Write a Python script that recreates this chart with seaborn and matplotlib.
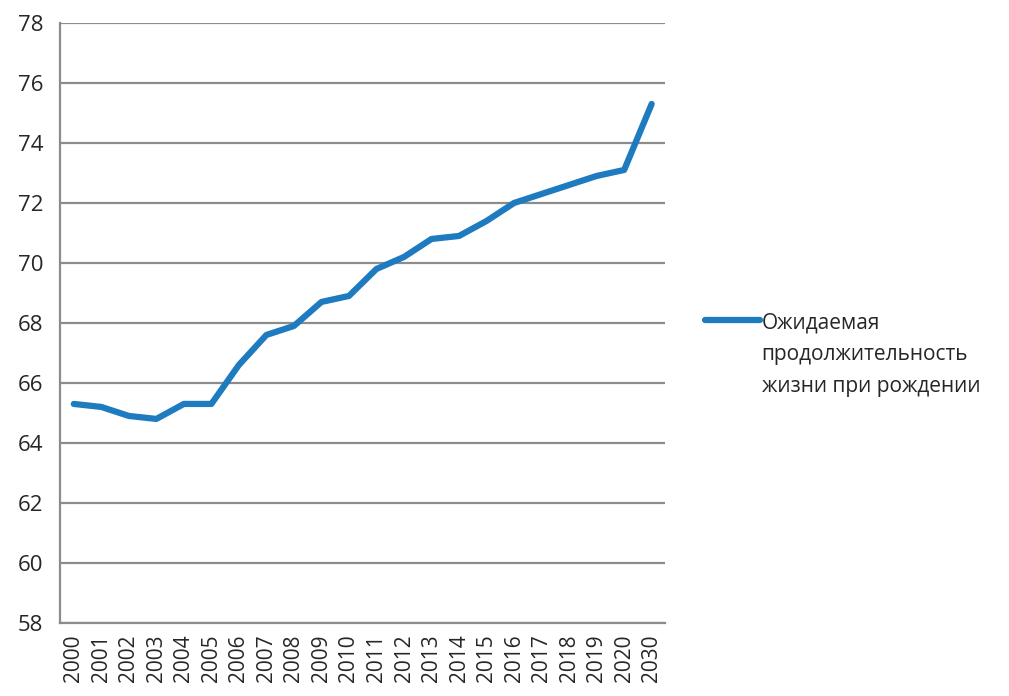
import numpy as np
import pandas as pd
import matplotlib
matplotlib.use("Agg")
import matplotlib.pyplot as plt
import seaborn as sns

years = ['2000', '2001', '2002', '2003', '2004', '2005', '2006', '2007', '2008', '2009', '2010',
         '2011', '2012', '2013', '2014', '2015', '2016', '2017', '2018', '2019', '2020', '2030']
life_exp = [65.3, 65.2, 64.9, 64.8, 65.3, 65.3, 66.6, 67.6, 67.9, 68.7, 68.9,
            69.8, 70.2, 70.8, 70.9, 71.4, 72.0, 72.3, 72.6, 72.9, 73.1, 75.3]
series_label = 'Ожидаемая\nпродолжительность\nжизни при рождении'
y_ticks = list(range(58, 80, 2))

sns.set_style('white')
plt.rcParams['font.family'] = ['Open Sans', 'DejaVu Sans']

df = pd.DataFrame({'year': years, 'value': life_exp})

fig = plt.figure(figsize=(10.09, 6.96), dpi=100)
ax = fig.add_axes([0.0595, 0.105, 0.6, 0.862])

grid_col = '#8c8c8c'
for t in y_ticks:
    ax.axhline(t, color=grid_col, lw=1.6, zorder=1)

sns.lineplot(data=df, x='year', y='value', sort=False, color='#1F7BC0', lw=4.5,
             label=series_label, ax=ax, zorder=3)

ax.set_xlim(-0.5, len(years) - 0.5)
ax.set_ylim(58, 78)
ax.set_yticks(y_ticks)
ax.set_xticks(range(len(years)))
ax.set_xticklabels(years, rotation=90)
ax.set_xticks(np.arange(-0.5, len(years), 1.0), minor=True)
ax.tick_params(axis='x', which='major', length=0, pad=8, labelsize=15)
ax.tick_params(axis='x', which='minor', length=6, width=1.6, color=grid_col, direction='out')
ax.tick_params(axis='y', length=6, width=1.6, color=grid_col, direction='out', labelsize=16, pad=6)
ax.set_xlabel('')
ax.set_ylabel('')

for s in ['top', 'right']:
    ax.spines[s].set_visible(False)
for s in ['left', 'bottom']:
    ax.spines[s].set_color(grid_col)
    ax.spines[s].set_linewidth(1.6)

leg = ax.legend(loc='center left', bbox_to_anchor=(1.035, 0.447), frameon=False,
                fontsize=15, handlelength=2.6, handletextpad=0.1, labelspacing=0.2)
for txt in leg.get_texts():
    txt.set_linespacing(1.68)
# keep the legend line level with the first text line, as in Excel
for col in leg._legend_handle_box.get_children():
    for row in col.get_children():
        row.align = 'top'

fig.savefig('out.png', dpi=100)
